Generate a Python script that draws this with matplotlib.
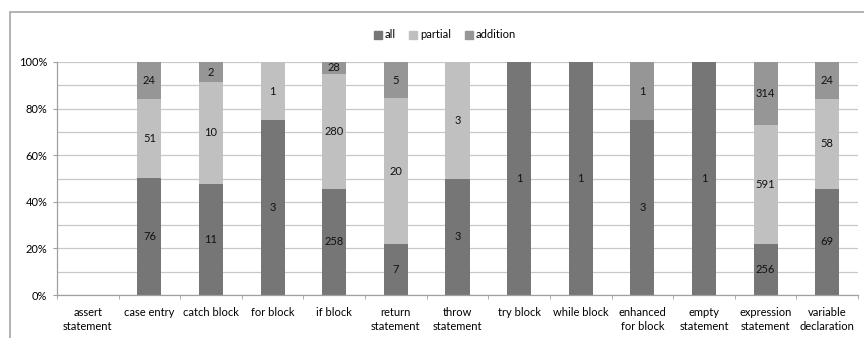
import matplotlib
matplotlib.use('Agg')
import matplotlib.pyplot as plt
import matplotlib.patches as mpatches
from matplotlib.ticker import FixedLocator, PercentFormatter
import numpy as np

plt.rcParams['font.family'] = ['Lato', 'DejaVu Sans']

# ---- Data ----
categories = ['assert\nstatement', 'case entry', 'catch block', 'for block',
              'if block', 'return\nstatement', 'throw\nstatement', 'try block',
              'while block', 'enhanced\nfor block', 'empty\nstatement',
              'expression\nstatement', 'variable\ndeclaration']
all_counts      = [0, 76, 11, 3, 258, 7, 3, 1, 1, 3, 1, 256, 69]
partial_counts  = [0, 51, 10, 1, 280, 20, 3, 0, 0, 0, 0, 591, 58]
addition_counts = [0, 24, 2, 0, 28, 5, 0, 0, 0, 1, 0, 314, 24]

series_names = ['all', 'partial', 'addition']
series_colors = ['#767676', '#c0c0c0', '#969696']

FS = 8

# ---- Figure ----
fig = plt.figure(figsize=(8.64, 3.38), dpi=100)
# outer chart frame (only left and top edges fall inside the canvas)
frame = mpatches.Rectangle((10/864, -0.05), 1.0, (338 - 12)/338 + 0.05,
                           transform=fig.transFigure, fill=False,
                           edgecolor='#a6a6a6', linewidth=1.2, zorder=0)
fig.patches.append(frame)

ax = fig.add_axes([57/864, 1 - 295/338, (858 - 57)/864, (295 - 62)/338])

data = np.array([all_counts, partial_counts, addition_counts], dtype=float)
totals = data.sum(axis=0)
safe_tot = np.where(totals == 0, 1, totals)
shares = data / safe_tot * 100

x = np.arange(len(categories))
bottom = np.zeros(len(categories))
for name, color, counts, pct in zip(series_names, series_colors, data, shares):
    ax.bar(x, pct, width=0.39, bottom=bottom, color=color, label=name,
           edgecolor='none', zorder=2)
    for xi, c, p, b in zip(x, counts, pct, bottom):
        if c > 0:
            ax.text(xi, b + p / 2, f'{int(c)}', ha='center', va='center',
                    fontsize=FS, color='#111111', zorder=3)
    bottom += pct

ax.set_xlim(-0.5, len(categories) - 0.5)
ax.set_ylim(0, 100)
ax.yaxis.set_major_locator(FixedLocator([0, 20, 40, 60, 80, 100]))
ax.yaxis.set_minor_locator(FixedLocator([10, 30, 50, 70, 90]))
ax.yaxis.set_major_formatter(PercentFormatter(decimals=0))
ax.grid(axis='y', which='both', color='#c8c8c8', linewidth=0.9, zorder=0)
ax.set_axisbelow(True)

ax.set_xticks(x)
ax.set_xticklabels(categories, fontsize=FS, linespacing=1.3)
ax.xaxis.set_minor_locator(FixedLocator(np.arange(-0.5, len(categories), 1.0)))
ax.tick_params(axis='x', which='major', length=0, pad=9)
ax.tick_params(axis='x', which='minor', length=3, color='#a0a0a0')
ax.tick_params(axis='y', which='major', length=3, color='#a0a0a0',
               labelsize=FS, pad=4)
ax.tick_params(axis='y', which='minor', length=0)

for side in ['top', 'right']:
    ax.spines[side].set_visible(False)
for side in ['left', 'bottom']:
    ax.spines[side].set_color('#a0a0a0')
    ax.spines[side].set_linewidth(0.9)

handles = [mpatches.Patch(color=c, label=n) for n, c in zip(series_names, series_colors)]
fig.legend(handles=handles, loc='center', bbox_to_anchor=(445/864, 1 - 35/338),
           ncol=3, frameon=False, fontsize=FS, handlelength=0.7,
           handleheight=0.7, handletextpad=0.3, columnspacing=1.2)

fig.savefig('out.png', dpi=100)
